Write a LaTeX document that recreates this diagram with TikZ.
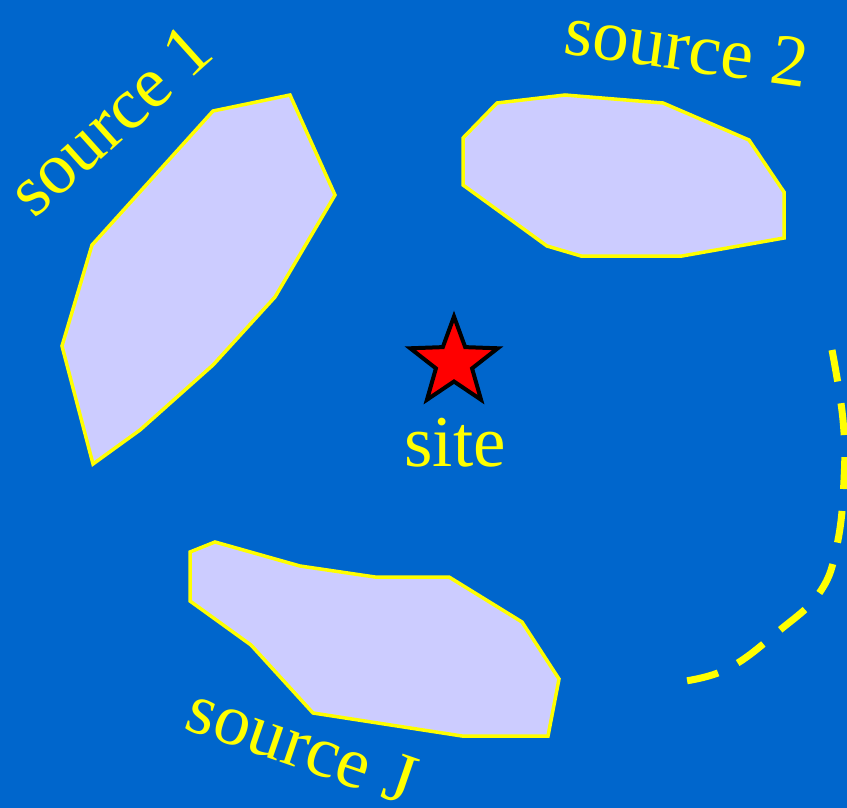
\documentclass[tikz,border=0pt]{standalone}
\usepackage{fontspec}
\setmainfont{Liberation Serif}
\definecolor{bgblue}{HTML}{0066CC}
\definecolor{srcfill}{HTML}{CCCCFF}
\definecolor{ylw}{HTML}{FFFF00}
\begin{document}
\begin{tikzpicture}[x=1pt,y=-1pt,
  region/.style={fill=srcfill,draw=ylw,line width=3.5pt,line join=miter},
  lbl/.style={text=ylw,font=\fontsize{73}{80}\selectfont,inner sep=0pt},
  boundary/.style={draw=ylw,line width=7pt,dash pattern=on 32pt off 22pt}]
\fill[bgblue] (0,0) rectangle (847,808);
\useasboundingbox (0,0) rectangle (847,808);
% source 1
\draw[region] (213,111) -- (290,95) -- (335,195) -- (275,297) -- (213,365) -- (140,430) -- (93,464) -- (62,346) -- (92,245) -- cycle;
% source 2
\draw[region] (463,138) -- (497,103) -- (565,95) -- (663,103) -- (749,140) -- (784,192) -- (784,238) -- (682,256) -- (581,256) -- (547,246) -- (463,185) -- cycle;
% source J
\draw[region] (190,552) -- (215,542) -- (300,566) -- (375,577) -- (449,577) -- (522,622) -- (559,679) -- (548,736) -- (462,736) -- (313,713) -- (251,645) -- (190,601) -- cycle;
% star
\draw[shift={(454,362.5)},fill=red,draw=black,line width=4pt,line join=miter]
  (-90:46) -- (-54:19) -- (-18:46) -- (18:19) -- (54:46) -- (90:19) -- (126:46) -- (162:19) -- (198:46) -- (234:19) -- cycle;
% labels
\node[lbl,anchor=base] (site) at (455,466) {site};
\node[lbl,rotate=42] (s1) at (110,120) {source 1};
\node[lbl,rotate=-8] (s2) at (687,47) {source 2};
\node[lbl,rotate=-19] (sJ) at (302,745) {source J};
% dashed boundary
\draw[boundary] plot[smooth,tension=0.7] coordinates {(832,350) (843,420) (844,480) (837,545) (820,592) (780,630) (725,670) (670,683)};
\end{tikzpicture}
\end{document}
